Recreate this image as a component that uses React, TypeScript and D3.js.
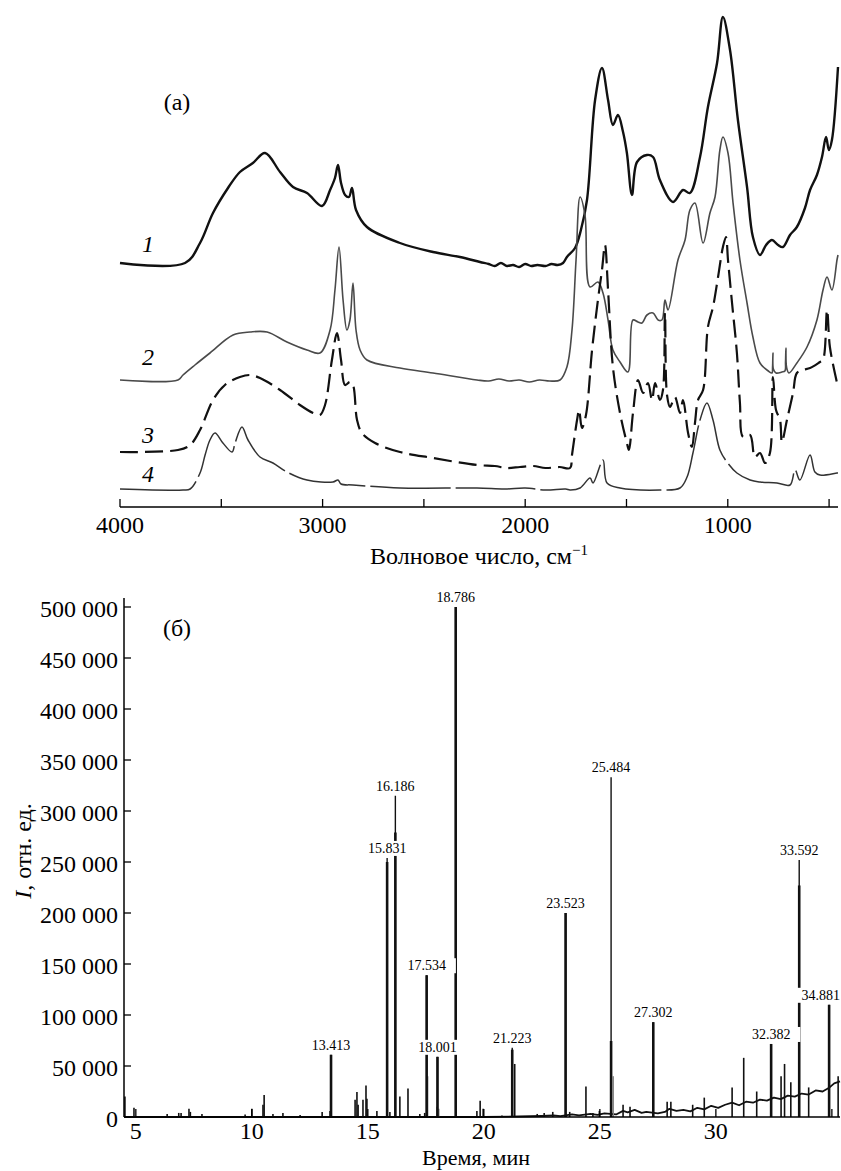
import * as d3 from 'd3';

const FONT = '"Liberation Serif", "Times New Roman", Times, serif';

// (а) IR spectra: [wavenumber, cm-1; absorbance, a.u., stacked with offsets]
const spectrum1: [number, number][] = [
  [4000, 2.44], [3679, 2.44], [3605, 2.64], [3541, 2.94], [3467, 3.19], [3408, 3.35], [3344, 3.44],
  [3284, 3.54], [3210, 3.35], [3146, 3.2], [3077, 3.14], [3003, 3.01], [2963, 3.17], [2939, 3.29],
  [2924, 3.42], [2909, 3.24], [2889, 3.12], [2870, 3.1], [2855, 3.19], [2835, 2.97], [2781, 2.8],
  [2618, 2.64], [2455, 2.55], [2322, 2.5], [2223, 2.45], [2180, 2.43], [2150, 2.41], [2120, 2.44],
  [2090, 2.41], [2060, 2.42], [2030, 2.4], [2000, 2.43], [1970, 2.41], [1940, 2.42], [1900, 2.41],
  [1870, 2.43], [1840, 2.42], [1813, 2.44], [1794, 2.5], [1754, 2.59], [1725, 2.77], [1695, 3.07],
  [1655, 4.07], [1621, 4.39], [1591, 4.07], [1567, 3.82], [1542, 3.92], [1517, 3.75], [1498, 3.54],
  [1473, 3.12], [1448, 3.45], [1399, 3.52], [1369, 3.5], [1335, 3.27], [1270, 3.05], [1221, 3.17],
  [1187, 3.14], [1137, 3.5], [1098, 4.0], [1053, 4.44], [1024, 4.9], [989, 4.57], [950, 3.87],
  [905, 3.2], [876, 2.7], [841, 2.52], [811, 2.62], [782, 2.67], [752, 2.62], [728, 2.6], [693, 2.72],
  [659, 2.8], [619, 2.99], [594, 3.17], [560, 3.32], [535, 3.5], [515, 3.7], [501, 3.57], [486, 3.67],
  [456, 4.4],
];

const spectrum2: [number, number][] = [
  [4000, 1.27], [3714, 1.27], [3689, 1.32], [3630, 1.42], [3556, 1.54], [3442, 1.72], [3358, 1.75],
  [3274, 1.75], [3176, 1.65], [3077, 1.57], [3013, 1.54], [2963, 1.77], [2939, 2.17], [2919, 2.6],
  [2899, 2.07], [2880, 1.77], [2865, 1.87], [2850, 2.24], [2835, 1.77], [2815, 1.57], [2781, 1.47],
  [2618, 1.39], [2455, 1.34], [2238, 1.27], [2180, 1.26], [2130, 1.28], [2080, 1.26], [2030, 1.27],
  [1980, 1.25], [1930, 1.27], [1880, 1.26], [1828, 1.27], [1794, 1.4], [1769, 1.77], [1749, 2.47],
  [1729, 3.1], [1705, 2.92], [1680, 2.2], [1641, 2.25], [1616, 2.14], [1591, 1.87], [1567, 1.57],
  [1532, 1.45], [1493, 1.35], [1468, 1.87], [1443, 1.85], [1423, 1.84], [1399, 1.92], [1369, 1.94],
  [1344, 1.87], [1325, 1.87], [1310, 2.07], [1295, 1.97], [1246, 2.47], [1211, 2.67], [1187, 2.97],
  [1162, 3.04], [1122, 2.64], [1088, 2.94], [1063, 3.1], [1039, 3.57], [1024, 3.7], [999, 3.54],
  [974, 3.04], [940, 2.47], [905, 2.04], [876, 1.7], [841, 1.44], [800, 1.36], [782, 1.34],
  [779, 1.4], [777, 1.54], [775, 1.38], [762, 1.34], [733, 1.35], [718, 1.36], [715, 1.45],
  [713, 1.59], [710, 1.4], [698, 1.34], [659, 1.44], [609, 1.6], [560, 1.87], [530, 2.17],
  [510, 2.3], [486, 2.17], [461, 2.47], [456, 2.52],
];

const spectrum3: [number, number][] = [
  [4000, 0.55], [3714, 0.57], [3654, 0.62], [3605, 0.77], [3541, 1.07], [3482, 1.22], [3408, 1.3],
  [3358, 1.32], [3309, 1.29], [3210, 1.17], [3112, 1.02], [3047, 0.94], [3013, 0.92], [2988, 1.02],
  [2954, 1.47], [2929, 1.74], [2909, 1.47], [2889, 1.22], [2865, 1.25], [2850, 1.22], [2830, 0.87],
  [2806, 0.74], [2741, 0.64], [2618, 0.55], [2455, 0.49], [2238, 0.42], [2150, 0.41], [2090, 0.39],
  [2026, 0.4], [1960, 0.41], [1900, 0.39], [1830, 0.4], [1779, 0.39], [1769, 0.52], [1744, 0.87],
  [1734, 0.97], [1720, 0.79], [1700, 0.92], [1670, 1.57], [1641, 2.07], [1621, 2.37], [1606, 2.62],
  [1591, 2.17], [1567, 1.4], [1532, 0.94], [1498, 0.64], [1488, 0.57], [1468, 0.94], [1443, 1.27],
  [1418, 1.14], [1394, 1.24], [1374, 1.07], [1359, 1.24], [1335, 1.07], [1320, 1.17], [1310, 1.94],
  [1300, 1.12], [1285, 1.0], [1261, 1.1], [1236, 0.94], [1221, 1.07], [1196, 0.74], [1177, 0.6],
  [1162, 0.84], [1147, 1.07], [1122, 1.17], [1098, 1.8], [1073, 2.0], [1048, 2.3], [1024, 2.6],
  [1009, 2.7], [999, 2.47], [979, 2.04], [955, 1.54], [940, 1.04], [925, 0.7], [890, 0.72],
  [866, 0.5], [841, 0.54], [816, 0.44], [792, 0.54], [777, 1.3], [762, 0.97], [742, 0.87],
  [733, 0.65], [708, 0.87], [678, 1.14], [659, 1.34], [629, 1.37], [594, 1.39], [545, 1.45],
  [530, 1.47], [510, 1.97], [496, 1.6], [461, 1.24], [456, 1.19],
];

const spectrum4: [number, number][] = [
  [4000, 0.18], [3689, 0.17], [3654, 0.18], [3605, 0.34], [3580, 0.52], [3556, 0.67], [3531, 0.74],
  [3492, 0.64], [3447, 0.55], [3432, 0.64], [3398, 0.8], [3368, 0.67], [3309, 0.5], [3245, 0.44],
  [3176, 0.35], [3077, 0.27], [2949, 0.25], [2924, 0.27], [2909, 0.23], [2850, 0.22], [2618, 0.19],
  [2238, 0.19], [2100, 0.18], [2000, 0.19], [1900, 0.17], [1800, 0.18], [1779, 0.17], [1729, 0.19],
  [1680, 0.29], [1665, 0.24], [1616, 0.47], [1596, 0.24], [1532, 0.19], [1335, 0.17], [1236, 0.19],
  [1201, 0.3], [1172, 0.54], [1137, 0.87], [1103, 1.04], [1073, 0.87], [1039, 0.57], [1004, 0.45],
  [955, 0.34], [890, 0.27], [841, 0.25], [757, 0.24], [693, 0.22], [668, 0.37], [644, 0.27],
  [594, 0.52], [570, 0.35], [545, 0.32], [461, 0.34], [456, 0.34],
];

const spectrumNames = ['1', '2', '3', '4'];
const wavenumberLabels = [4000, 3000, 2000, 1000];

// (б) chromatogram: labelled peaks (retention time, min; intensity)
const peakTimes = [13.413, 15.831, 16.186, 17.534, 18.001, 18.786, 21.223, 23.523, 25.484, 27.302, 32.382, 33.592, 34.881];
const peakApex = [61000, 254000, 315000, 139000, 59000, 500000, 68000, 200000, 333000, 93000, 71600, 252000, 110000];
const peakBody = [61000, 250000, 279000, 139000, 59000, 500000, 66000, 200000, 74500, 93000, 71600, 227000, 110000];

const minorPeaks: [number, number][] = [
  [4.53, 20000], [4.92, 9000], [6.35, 3000], [6.85, 4000], [6.95, 4000], [7.29, 8000], [7.35, 5000],
  [7.85, 3000], [9.71, 2500], [10.0, 8000], [10.48, 12000], [10.53, 21500], [10.91, 3000],
  [11.34, 4000], [12.08, 2000], [13.03, 5000], [13.37, 6000], [14.45, 17000], [14.53, 24500],
  [14.58, 12000], [14.79, 17000], [14.92, 31000], [14.96, 18000], [15.39, 6000], [15.95, 5000],
  [16.38, 20000], [16.73, 28000], [17.24, 3000], [17.45, 4000], [19.7, 6000], [19.84, 16000],
  [19.97, 8000], [20.78, 1500], [21.33, 52000], [22.3, 3000], [22.6, 4000], [22.97, 5000],
  [23.7, 5000], [24.4, 30000], [24.7, 4000], [24.98, 6000], [26.0, 12000], [26.3, 10000],
  [27.9, 15000], [28.06, 15000], [29.0, 12000], [29.5, 19000], [30.7, 29000], [31.2, 58000],
  [31.76, 25000], [32.81, 40000], [32.96, 52000], [33.23, 34000], [34.0, 29000], [35.27, 40000],
];

const shoulderPeaks: [number, number][] = [[17.58, 40000], [17.97, 10000], [18.06, 8000], [25.58, 40000]];

const baseline: [number, number][] = [
  [4.5, 0], [20, 0], [21.5, 500], [22.5, 1000], [23, 1500], [23.3, 800], [23.8, 2500], [24.1, 1500],
  [24.6, 3000], [24.9, 2000], [25.2, 3500], [25.7, 2500], [26.0, 6000], [26.2, 4500], [26.5, 7000],
  [26.8, 4000], [27.0, 5000], [27.5, 3500], [27.8, 5000], [28.0, 8000], [28.3, 6000], [28.6, 7000],
  [28.9, 5500], [29.2, 9000], [29.5, 7500], [29.8, 11000], [30.1, 9000], [30.4, 12000], [30.7, 14000],
  [31.0, 11500], [31.3, 15000], [31.6, 14000], [31.9, 17000], [32.2, 16000], [32.5, 19000],
  [32.8, 17500], [33.1, 21000], [33.4, 20000], [33.7, 23000], [34.0, 22000], [34.3, 26000],
  [34.6, 25000], [34.9, 29000], [35.1, 33000], [35.35, 35000],
];

const intensityTicks = d3.range(0, 500001, 50000);
const timeTicks = [5, 10, 15, 20, 25, 30, 35];
const timeLabels = [5, 10, 15, 20, 25, 30];

const fmtInt = (v: number) => d3.format(',')(v).replace(/,/g, ' ');

export default function App() {
  // panel (а)
  const xIR = d3.scaleLinear().domain([4000, 456]).range([120, 838]);
  const yIR = d3.scaleLinear().domain([0, 5]).range([507, 7]);
  const irLine = d3.line<[number, number]>()
    .x(d => xIR(d[0]))
    .y(d => yIR(d[1]))
    .curve(d3.curveCatmullRom.alpha(0.5));

  const curves = [
    { data: spectrum1, stroke: '#111', width: 2.4, dash: undefined, dy: -11 },
    { data: spectrum2, stroke: '#4a4a4a', width: 1.6, dash: undefined, dy: -15 },
    { data: spectrum3, stroke: '#111', width: 2.2, dash: '18 7', dy: -9 },
    { data: spectrum4, stroke: '#333', width: 1.5, dash: '80 5', dy: -7 },
  ];

  // panel (б)
  const xT = d3.scaleLinear().domain([4.49, 35.35]).range([124, 840]);
  const yI = d3.scaleLinear().domain([0, 500000]).range([1117, 607]);
  const baseLine = d3.line<[number, number]>().x(d => xT(d[0])).y(d => yI(d[1]));

  const labelFont = 14;
  const labelW = labelFont * (0.5 * 5 + 0.25);

  return (
    <svg width={841} height={1171} style={{ position: 'absolute', left: 0, top: 0, background: '#fff' }}
      fontFamily={FONT}>
      {/* ---------- (а) ---------- */}
      <g>
        {curves.map((c, i) => (
          <path key={i} d={irLine(c.data) || ''} fill="none" stroke={c.stroke} strokeWidth={c.width}
            strokeDasharray={c.dash} strokeLinejoin="round" />
        ))}
        {curves.map((c, i) => (
          <text key={i} x={148} y={yIR(c.data[0][1]) + c.dy} fontSize={24} fontStyle="italic"
            textAnchor="middle">{spectrumNames[i]}</text>
        ))}
        <text x={177} y={110} fontSize={24} textAnchor="middle">(а)</text>

        <line x1={xIR(4000)} x2={xIR(456)} y1={507} y2={507} stroke="#000" strokeWidth={1.5} />
        {d3.range(4000, 455, -500).map(t => (
          <line key={t} x1={xIR(t)} x2={xIR(t)} y1={507} y2={499} stroke="#000" strokeWidth={1.3} />
        ))}
        {wavenumberLabels.map(t => (
          <text key={t} x={xIR(t)} y={533} fontSize={24} textAnchor="middle">{t}</text>
        ))}
        <text x={479} y={564} fontSize={24} textAnchor="middle">
          Волновое число, см<tspan dy={-9} fontSize={15}>−1</tspan>
        </text>
      </g>

      {/* ---------- (б) ---------- */}
      <g>
        <path d={baseLine(baseline) || ''} fill="none" stroke="#111" strokeWidth={1.8} strokeLinejoin="round" />
        {minorPeaks.map((p, i) => (
          <line key={i} x1={xT(p[0])} x2={xT(p[0])} y1={yI(0)} y2={yI(p[1])} stroke="#111" strokeWidth={1.6} />
        ))}
        {shoulderPeaks.map((p, i) => (
          <line key={i} x1={xT(p[0])} x2={xT(p[0])} y1={yI(0)} y2={yI(p[1])} stroke="#888" strokeWidth={1.4} />
        ))}
        {peakTimes.map((t, i) => (
          <line key={'a' + i} x1={xT(t)} x2={xT(t)} y1={yI(0)} y2={yI(peakApex[i])} stroke="#111" strokeWidth={1.4} />
        ))}
        {peakTimes.map((t, i) => (
          <line key={'b' + i} x1={xT(t)} x2={xT(t)} y1={yI(0)} y2={yI(peakBody[i])} stroke="#111" strokeWidth={2.6} />
        ))}
        {peakTimes.map((t, i) => {
          const cx = Math.min(xT(t), 841 - labelW / 2 - 1);
          const by = yI(peakApex[i]) - 5;
          return (
            <g key={'l' + i}>
              <rect x={cx - labelW / 2 - 10} y={by - 12} width={labelW + 20} height={15} fill="#fff" />
              <text x={cx} y={by} fontSize={labelFont} textAnchor="middle">{t.toFixed(3)}</text>
            </g>
          );
        })}

        <line x1={124} x2={124} y1={598} y2={1117} stroke="#000" strokeWidth={1.5} />
        <line x1={124} x2={840} y1={1117} y2={1117} stroke="#000" strokeWidth={1.5} />
        {intensityTicks.map(v => (
          <g key={v}>
            <line x1={124} x2={131} y1={yI(v)} y2={yI(v)} stroke="#000" strokeWidth={1.3} />
            <text x={118} y={yI(v) + 10} fontSize={24} textAnchor="end">{fmtInt(v)}</text>
          </g>
        ))}
        {timeTicks.map(t => (
          <line key={t} x1={xT(t)} x2={xT(t)} y1={1117} y2={1109} stroke="#000" strokeWidth={1.3} />
        ))}
        {timeLabels.map(t => (
          <text key={t} x={xT(t)} y={1139} fontSize={24} textAnchor="middle">{t}</text>
        ))}
        <text x={177} y={636} fontSize={24} textAnchor="middle">(б)</text>
        <text x={476} y={1165} fontSize={22} textAnchor="middle">Время, мин</text>
        <text transform="translate(31,851) rotate(-90)" fontSize={24} textAnchor="middle">
          <tspan fontStyle="italic">I</tspan>, отн. ед.
        </text>
      </g>
    </svg>
  );
}
